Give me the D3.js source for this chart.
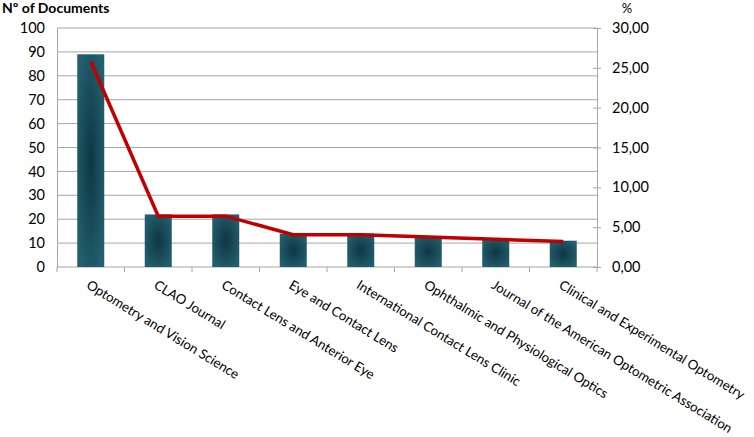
<!DOCTYPE html>
<html>
<head>
<meta charset="utf-8">
<script src="https://cdn.jsdelivr.net/npm/d3@7"></script>
<style>
  body { margin: 0; background: #fff; }
  svg text { font-family: Lato, "Open Sans", sans-serif; fill: #000; }
</style>
</head>
<body>
<div id="chart"></div>
<script>
// journals, document counts and share (%)
var journals = ["Optometry and Vision Science", "CLAO Journal", "Contact Lens and Anterior Eye",
  "Eye and Contact Lens", "International Contact Lens Clinic", "Ophthalmic and Physiological Optics",
  "Journal of the American Optometric Association", "Clinical and Experimental Optometry"];
var documents = [89, 22, 22, 14, 14, 13, 12, 11];
var percents = [25.80, 6.38, 6.38, 4.06, 4.06, 3.77, 3.48, 3.19];
var leftTicks = [0, 10, 20, 30, 40, 50, 60, 70, 80, 90, 100];
var rightTicks = [0, 5, 10, 15, 20, 25, 30];

var W = 754, H = 437;
var margin = {top: 28, right: 157, bottom: 170, left: 57};
var width = W - margin.left - margin.right,
    height = H - margin.top - margin.bottom;

var svg = d3.select("#chart").append("svg")
    .attr("width", W)
    .attr("height", H);

var defs = svg.append("defs");
var grad = defs.append("radialGradient").attr("id", "barGrad")
    .attr("cx", "50%").attr("cy", "50%").attr("r", "60%");
grad.append("stop").attr("offset", "0%").attr("stop-color", "#0f3643");
grad.append("stop").attr("offset", "100%").attr("stop-color", "#22606f");

var g = svg.append("g")
    .attr("transform", "translate(" + margin.left + "," + margin.top + ")");

var x = d3.scaleBand()
    .domain(journals)
    .range([0, width])
    .paddingInner(0.6)
    .paddingOuter(0.3);

var y = d3.scaleLinear().domain([0, 100]).range([height, 0]);
var y2 = d3.scaleLinear().domain([0, 30]).range([height, 0]);

var comma = function(v) { return d3.format(".2f")(v).replace(".", ","); };

// gridlines
g.append("g")
    .selectAll("line")
    .data(leftTicks.slice(1))
    .enter().append("line")
    .attr("x1", 0).attr("x2", width)
    .attr("y1", function(d) { return y(d); })
    .attr("y2", function(d) { return y(d); })
    .attr("stroke", "#a6a6a6").attr("stroke-width", 1);

// left axis
var gy = g.append("g")
    .call(d3.axisLeft(y).tickValues(leftTicks).tickSize(0).tickPadding(12));
gy.select(".domain").attr("stroke", "#a6a6a6");
gy.selectAll("text").style("font-size", "14.5px");

// right axis
var gy2 = g.append("g")
    .attr("transform", "translate(" + width + ",0)")
    .call(d3.axisRight(y2).tickValues(rightTicks).tickFormat(comma).tickSize(4).tickPadding(11));
gy2.select(".domain").attr("stroke", "#a6a6a6");
gy2.selectAll(".tick line").attr("x1", -4).attr("stroke", "#a6a6a6");
gy2.selectAll("text").style("font-size", "14.5px");

// bottom axis line with ticks at category boundaries
var step = x.step();
g.append("line")
    .attr("x1", 0).attr("x2", width)
    .attr("y1", height).attr("y2", height)
    .attr("stroke", "#a6a6a6");
g.append("g")
    .selectAll("line")
    .data(d3.range(journals.length + 1))
    .enter().append("line")
    .attr("x1", function(i) { return i * step; })
    .attr("x2", function(i) { return i * step; })
    .attr("y1", height).attr("y2", height + 5)
    .attr("stroke", "#a6a6a6");

// bars
g.selectAll(".bar")
    .data(documents)
    .enter().append("rect")
    .attr("class", "bar")
    .attr("x", function(d, i) { return x(journals[i]); })
    .attr("width", x.bandwidth())
    .attr("y", function(d) { return y(d); })
    .attr("height", function(d) { return height - y(d); })
    .attr("fill", "url(#barGrad)");

// percent line
var line = d3.line()
    .x(function(d, i) { return x(journals[i]) + x.bandwidth() / 2; })
    .y(function(d) { return y2(d); });

g.append("path")
    .datum(percents)
    .attr("d", line)
    .attr("fill", "none")
    .attr("stroke", "#c00000")
    .attr("stroke-width", 3.5);

// category labels
g.append("g")
    .selectAll("text")
    .data(journals)
    .enter().append("text")
    .attr("transform", function(d) {
        return "translate(" + (x(d) + x.bandwidth() / 2) + "," + (height + 12) + ") rotate(31.5)";
    })
    .attr("dy", "0.75em")
    .style("font-size", "13.3px")
    .text(function(d) { return d; });

// axis titles
svg.append("text")
    .attr("x", 2).attr("y", 13)
    .style("font-size", "14px")
    .style("font-weight", "bold")
    .text("Nº of Documents");

svg.append("text")
    .attr("x", margin.left + width + 30).attr("y", 13)
    .attr("text-anchor", "middle")
    .style("font-size", "13px")
    .text("%");
</script>
</body>
</html>
